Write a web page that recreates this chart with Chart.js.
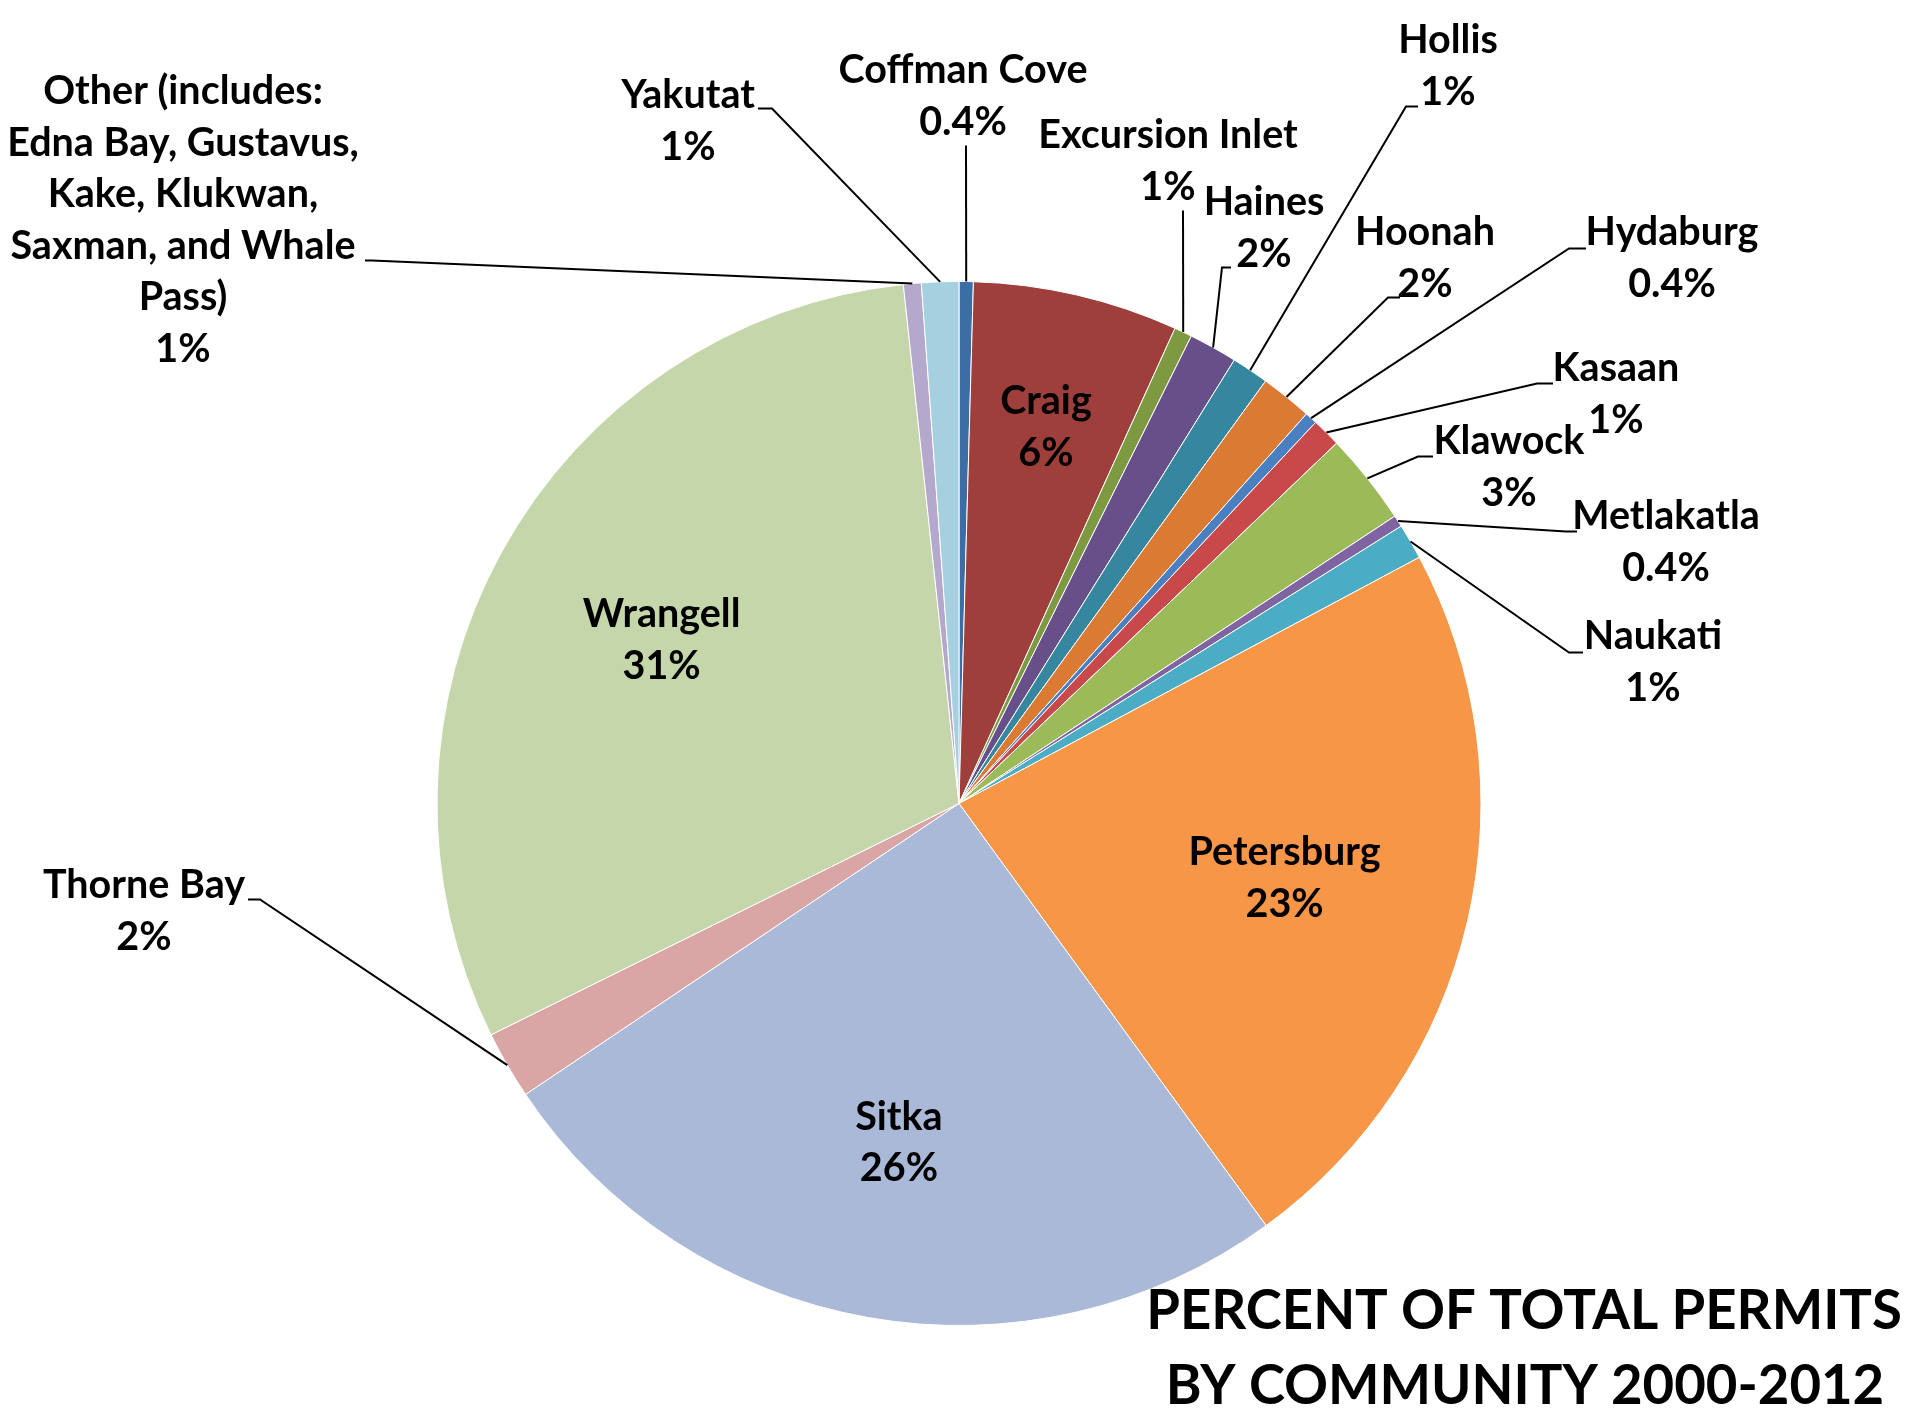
<!DOCTYPE html>
<html>
<head>
    <title>Percent of Total Permits by Community 2000-2012</title>
    <script src="https://cdn.jsdelivr.net/npm/chart.js@4.4.1/dist/chart.umd.min.js"></script>
    <style>
        html, body {
            margin: 0;
            padding: 0;
            background-color: #ffffff;
        }
        .chart-box {
            position: relative;
            width: 1917px;
            height: 1411px;
        }
    </style>
</head>
<body>
    <div class="chart-box">
        <canvas id="permitsPie"></canvas>
    </div>

    <script>
        // Slices in clockwise order from 12 o'clock
        const communities = [
            ['Coffman Cove'], ['Craig'], ['Excursion Inlet'], ['Haines'], ['Hollis'],
            ['Hoonah'], ['Hydaburg'], ['Kasaan'], ['Klawock'], ['Metlakatla'],
            ['Naukati'], ['Petersburg'], ['Sitka'], ['Thorne Bay'], ['Wrangell'],
            ['Other (includes:', 'Edna Bay, Gustavus,', 'Kake, Klukwan,', 'Saxman, and Whale', 'Pass)'],
            ['Yakutat']
        ];
        const permitShare = [0.44, 6.35, 0.55, 1.5, 1.15, 1.6, 0.38, 0.9, 2.85, 0.36, 1.1, 22.8, 25.6, 2.1, 30.6, 0.55, 1.15];
        const shareText = ['0.4%', '6%', '1%', '2%', '1%', '2%', '0.4%', '1%', '3%', '0.4%', '1%', '23%', '26%', '2%', '31%', '1%', '1%'];
        const sliceColors = [
            '#3d6da5', '#9e3f3c', '#7e9a40', '#67508a', '#34879f',
            '#db7a32', '#4a7fc1', '#c9484a', '#9bbb59', '#8064a2',
            '#4bacc6', '#f79646', '#aab9d7', '#d9a6a5', '#c5d6aa',
            '#b4a8cc', '#a6cfe0'
        ];
        const titleLines = ['PERCENT OF TOTAL PERMITS', 'BY COMMUNITY 2000-2012'];

        // where each label goes, in pixels from the pie centre
        // inside labels: fraction of the radius along the slice's mid angle
        // outside labels: text centre + leader start, leader ends on the slice edge
        const labelSpots = [
            { x: 4, y: -733, lead: [[7, -658]] },
            { inside: 0.74 },
            { x: 209, y: -668, lead: [[224, -593]] },
            { x: 305, y: -601, lead: [[272, -536], [263, -536]] },
            { x: 489, y: -763, lead: [[459, -697], [447, -697]] },
            { x: 466, y: -571, lead: [[441, -506], [429, -506]] },
            { x: 713, y: -571, lead: [[627, -555], [610, -555]] },
            { x: 657, y: -435, lead: [[594, -420], [578, -420]] },
            { x: 550, y: -362, lead: [[474, -347], [459, -347]] },
            { x: 707, y: -287, lead: [[618, -272], [607, -272]] },
            { x: 694, y: -167, lead: [[624, -151], [610, -151]] },
            { inside: 0.64 },
            { inside: 0.66 },
            { x: -815, y: 82, lead: [[-711, 96], [-699, 96]] },
            { inside: 0.65 },
            { x: -776, y: -712, lead: [[-594, -543], [-587, -543]] },
            { x: -271, y: -708, lead: [[-201, -695], [-187, -695]] }
        ];

        const LABEL_FONT = 'bold 39.5px Lato';
        const LINE_GAP = 51.5;

        const sliceLabels = {
            id: 'sliceLabels',
            afterDatasetsDraw(chart) {
                const ctx = chart.ctx;
                const arcs = chart.getDatasetMeta(0).data;
                const cx = arcs[0].x;
                const cy = arcs[0].y;

                ctx.save();
                ctx.font = LABEL_FONT;
                ctx.fillStyle = '#000000';
                ctx.textAlign = 'center';
                ctx.textBaseline = 'middle';
                ctx.strokeStyle = '#000000';
                ctx.lineWidth = 2;

                arcs.forEach((arc, i) => {
                    const spot = labelSpots[i];
                    const mid = (arc.startAngle + arc.endAngle) / 2;
                    const lines = communities[i].concat([shareText[i]]);

                    if (spot.inside) {
                        const r = arc.outerRadius * spot.inside;
                        const px = cx + Math.cos(mid) * r;
                        const py = cy + Math.sin(mid) * r;
                        lines.forEach((t, k) => {
                            ctx.fillText(t, px, py + (k - (lines.length - 1) / 2) * LINE_GAP);
                        });
                        return;
                    }

                    // leader line
                    ctx.beginPath();
                    spot.lead.forEach((p, k) => {
                        if (k === 0) ctx.moveTo(cx + p[0], cy + p[1]);
                        else ctx.lineTo(cx + p[0], cy + p[1]);
                    });
                    ctx.lineTo(cx + Math.cos(mid) * arc.outerRadius, cy + Math.sin(mid) * arc.outerRadius);
                    ctx.stroke();

                    lines.forEach((t, k) => {
                        ctx.fillText(t, cx + spot.x, cy + spot.y + k * LINE_GAP);
                    });
                });

                // title block, lower right
                ctx.font = 'bold 54.5px Lato';
                ctx.fillText(titleLines[0], cx + 565, cy + 508);
                ctx.fillText(titleLines[1], cx + 566, cy + 583);
                ctx.restore();
            }
        };

        new Chart(document.getElementById('permitsPie'), {
            type: 'pie',
            data: {
                labels: communities.map(c => c.join(' ')),
                datasets: [{
                    data: permitShare,
                    backgroundColor: sliceColors,
                    borderColor: '#ffffff',
                    borderWidth: 1
                }]
            },
            options: {
                responsive: true,
                maintainAspectRatio: false,
                animation: false,
                layout: {
                    padding: { top: 281, bottom: 85, left: 1, right: 0 }
                },
                plugins: {
                    legend: { display: false },
                    tooltip: { enabled: false },
                    title: { display: false }
                }
            },
            plugins: [sliceLabels]
        });
    </script>
</body>
</html>
